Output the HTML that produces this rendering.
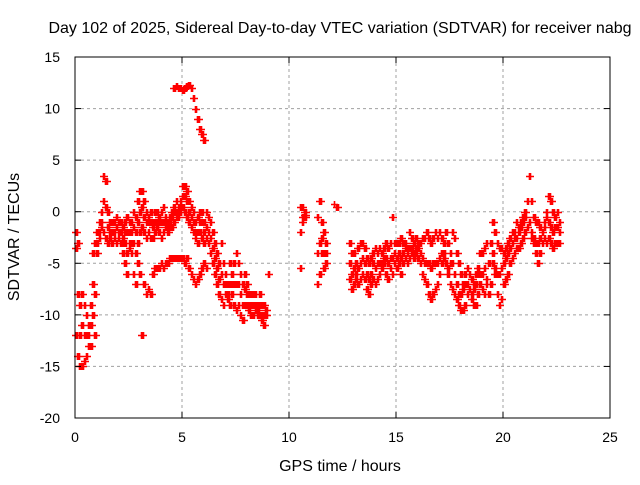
<!DOCTYPE html>
<html><head><meta charset="utf-8"><style>
body{margin:0;background:#fff}
svg text{font-family:"Liberation Sans",sans-serif;font-size:14px;fill:#000}
svg text.big{font-size:16px}
</style></head><body>
<svg id="chart" width="640" height="480" xmlns="http://www.w3.org/2000/svg">
<rect width="640" height="480" fill="#fff"/>
<g id="grid"></g><g id="marks"></g><g id="axes"></g>
<text class="big" x="340" y="33" text-anchor="middle">Day 102 of 2025, Sidereal Day-to-day VTEC variation (SDTVAR) for receiver nabg</text>
<text class="big" x="340" y="471" text-anchor="middle">GPS time / hours</text>
<text class="big" transform="translate(19,237) rotate(-90)" text-anchor="middle">SDTVAR / TECUs</text>
</svg>
<script>
const xTicks=[0,5,10,15,20,25];
const yTicks=[15,10,5,0,-5,-10,-15,-20];
const leftT0=0, rightT0=10.5, step=0.1;
const leftHi=[-2,-3,-9,-8,-9,-10,-11,-9,-4,-3,-2,-1,0,3.5,3,0,-1,-1,-1,-0.5,-1,-1,-1.5,-1,-0.5,-1,-1,0,-0.5,1,2,2,1,0,-0.5,0,-1,0,0,-0.5,0,0.5,-0.5,-1,-0.5,0,0.5,1,0.5,1,2.5,2.5,2,1,0.5,0,-1,-0.5,0,0,-1,0,-0.5,-1,-2,-3,-4,-5,-3,-5,-6,-7,-5,-6,-5,-4,-5,-6,-7,-6,-7,-8,-8,-8,-8,-9,-8,-9,-9,-9.5,-6];
const leftMid=[-3.5,-8,-12,-11,-12,-12,-12,-11,-7,-8,-3,-2,-1,1,0.5,-1.5,-2,-2,-2,-1.5,-2,-2,-2.5,-2,-2,-2,-2,-1.5,-2,-1,0,0.5,-0.5,-1,-1,-1,-1.5,-1,-1,-1,-1,-1,-1,-1.5,-1,-0.5,0,0,0,0.5,1.5,1.5,1,0,-0.5,-1,-2,-2,-1,-1,-2,-1.5,-2,-2.5,-3.5,-4.5,-5.5,-6.5,-6,-7,-7,-8,-7,-7,-7,-7,-7,-8,-9,-7.5,-8,-9,-9,-9,-9,-9.5,-9,-10,-10,-10,-6];
const leftLo=[-12,-14,-15,-15,-14.5,-14,-13,-13,-10,-12,-4,-2.5,-1.5,-2,-2.5,-3,-2.5,-3,-2.5,-3,-2.5,-3,-4,-3,-6,-3.5,-3,-3,-4,-3,-2,-1.5,-2,-2.5,-2,-2.5,-2.5,-2,-1.5,-2,-2.5,-2,-1.5,-2,-1.5,-1.5,-1,-0.5,-0.5,0,0.5,0,-0.5,-1,-1.5,-2,-2.5,-3,-2,-2.5,-3,-2.5,-3,-4,-5,-6,-7,-8,-8.5,-9,-8,-8.5,-9,-8,-9,-9.5,-9,-10,-10.5,-9,-9,-9.5,-10,-10,-9.5,-10,-10,-10.5,-11,-10,-6];
const branchT0=2.2;
const branchLow=[-3,-5,-4,-3,-4,-6,-7,-5,-6,-12,-7,-8,-7.5,-8,-6,-5.5,-5.5,-5.5,-5,-5.5,-5,-5,-4.5,-4.5,-4.5,-4.5,-4.5,-4.5,-4.5,-5,-4.5,-5.5,-6,-6.5,-7,-6.5,-6,-5.5,-5,-5.5];
const highT0=4.6;
const branchHigh=[12,12.2,12,12,11.8,12,12.2,12.3,12,11,10,9,8,7.5,7];
const rightHi=[0.5,0.5,0,null,null,null,null,null,-0.5,1,-1,-2,-3,null,null,null,null,0.5,null,null,null,null,null,-3,-4,-4,-5,-3.5,-3,-3,-3.5,-4.5,-5,-4.5,-4,-3.5,-4,-3.5,-4,-3.5,-3,-3.5,-3,-0.5,-3,-3,-3,-2.5,-3,-3,-3.5,-2,-2.5,-3,-2.5,-3,-3,-2.5,-2.5,-2,-2.5,-3,-2.5,-2,-2.5,-2,-2.5,-3,-2,-3,-4,-2,-2.5,-4,-5,-6,-7,-6,-5.5,-6,-6.5,-7,-6,-6,-4,-4,-3.5,-3,-5,-3,-1,-2,-3,-3.5,-3.5,-4,-3.5,-3,-2.5,-2,-2,-1,-1.5,-1,-0.5,0,1,3.5,1,-0.5,-1,-1,-1.5,-2,-1,0,1.5,1,0,-0.5,0,-1];
const rightMid=[-2,-0.5,-0.3,null,null,null,null,null,-4,-3,-2.5,-4,-4,null,null,null,null,null,null,null,null,null,null,-5,-6,-5.5,-6,-5.5,-5,-4.5,-5,-6,-6.5,-6,-5,-5.5,-5,-5,-5,-4.5,-4.5,-5,-4.5,-4.5,-4,-4.5,-4,-4.5,-4,-3.5,-4,-3.5,-3.5,-4,-3.5,-3.5,-4,-4.5,-5,-5,-5,-5.5,-5,-5,-5,-4.5,-4,-4,-5,-5.5,-5,-5,-6,-7,-8,-8,-7.5,-7,-7,-7.5,-8,-7.5,-7,-5.5,-6,-6,-5.5,-6.5,-5,-3,-4,-5.5,-6,-6,-5.5,-5,-4.5,-4,-3.5,-3,-2.5,-2.5,-2,-1.5,-1,-0.5,1,-1,-2,-2.5,-3,-3,-2.5,-2,-1.5,-0.5,-1,-1.5,-2,-1.5,-1.5,-2];
const rightLo=[-5.5,-1,-0.5,null,null,null,null,null,-7,-6,-4,-5.5,-5,null,null,null,null,null,null,null,null,null,null,-6.5,-7.5,-7,-6.5,-7,-6.5,-6,-6.5,-7.5,-8,-7,-6.5,-7,-6.5,-6,-5.5,-5,-6,-6.5,-5.5,-6,-5,-5.5,-5,-6,-5,-4.5,-5,-4.5,-4,-4.5,-4,-4.5,-5,-6,-6.5,-7,-8,-8.5,-8,-7.5,-7,-6,-5,-4.5,-5,-6,-7,-7.5,-8,-8.5,-9,-9.5,-9.5,-9,-8,-7.5,-8.5,-9,-9,-8,-7,-7.5,-8,-7,-8,-7,-5,-6,-8,-9,-8.5,-7,-6.5,-6,-5,-4.5,-4,-3.5,-3.5,-3,-2.5,-2,-1.5,-1,-2.5,-3,-4,-5,-4,-3,-2.5,-3,-2.5,-3,-3.5,-3,-3,-3];
const isoT=[9.0,12.1];
const isoV=[-6,0.7];

const X0=75,X1=610,Y0=57,Y1=418;
const xs=t=>X0+(t-0)/(25-0)*(X1-X0);
const ys=v=>Y0+(15-v)/(15-(-20))*(Y1-Y0);
const NS="http://www.w3.org/2000/svg";
const grid=document.getElementById('grid'),marks=document.getElementById('marks'),axes=document.getElementById('axes');
function mk(tag,attrs,parent){const e=document.createElementNS(NS,tag);for(const k in attrs)e.setAttribute(k,attrs[k]);parent.appendChild(e);return e;}
xTicks.forEach(t=>{
  const x=xs(t);
  if(t>0&&t<25){const g=mk('line',{x1:x,y1:Y0,x2:x,y2:Y1,stroke:'#a0a0a0','stroke-dasharray':'3,3'},grid);
  
  }
  mk('line',{x1:x,y1:Y1,x2:x,y2:Y1-6,stroke:'#000'},axes);mk('line',{x1:x,y1:Y0,x2:x,y2:Y0+6,stroke:'#000'},axes);
  const l=mk('text',{x:x,y:Y1+24,'text-anchor':'middle'},axes);l.textContent=t;
  
  
});
yTicks.forEach(v=>{
  const y=ys(v);
  if(v<15&&v>-20){const g=mk('line',{x1:X0,y1:y,x2:X1,y2:y,stroke:'#a0a0a0','stroke-dasharray':'3,3'},grid);
  
  }
  mk('line',{x1:X0,y1:y,x2:X0+6,y2:y,stroke:'#000'},axes);mk('line',{x1:X1,y1:y,x2:X1-6,y2:y,stroke:'#000'},axes);
  const l=mk('text',{x:X0-15,y:y+5,'text-anchor':'end'},axes);l.textContent=v;
  
  
});
const fr=mk('rect',{x:X0,y:Y0,width:X1-X0,height:Y1-Y0,fill:'none',stroke:'#000'},axes);


let d='';
function plus(t,v){if(v===null)return;const x=Math.round(xs(t))+0.5,y=Math.round(ys(v))+0.5;d+=`M${x-3.5} ${y}h7M${x} ${y-3.5}v7`;}
function series(t0,arr){arr.forEach((v,i)=>{for(let k=0;k<4;k++)plus(t0+i*step+k*step/4,v);});}
[leftHi,leftMid,leftLo].forEach(a=>series(leftT0,a));
series(branchT0,branchLow);series(highT0,branchHigh);
[rightHi,rightMid,rightLo].forEach(a=>series(rightT0,a));
isoT.forEach((t,i)=>plus(t,isoV[i]));
const p=mk('path',{d:d,stroke:'#ff0000','stroke-width':1.6,fill:'none'},marks);


</script>
</body></html>
